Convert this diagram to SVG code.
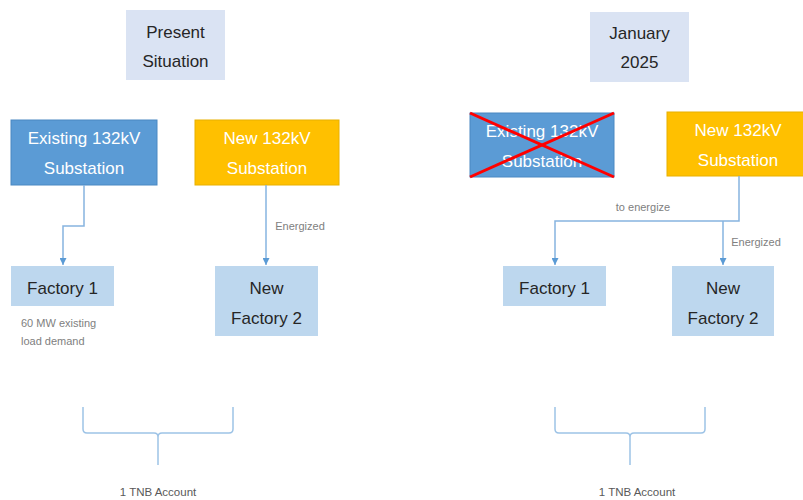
<svg xmlns="http://www.w3.org/2000/svg" width="803" height="500" viewBox="0 0 803 500">
<style>
.t{font-family:"Liberation Sans",Arial,sans-serif;text-anchor:middle}
.big{font-size:17px}
.dark{fill:#262626}
.white{fill:#ffffff}
.small{font-size:11px;fill:#808080}
.acct{font-size:11.5px;fill:#595959}
.title{fill:#dae3f3}
.ex{fill:#5b9bd5;stroke:#4a88c2;stroke-width:1}
.nw{fill:#ffc000;stroke:#e8b000;stroke-width:1}
.fac{fill:#bdd7ee}
.conn{fill:none;stroke:#86b4e0;stroke-width:1.5}
.brace{fill:none;stroke:#9dc3e6;stroke-width:1.5}
</style>
<defs>
<marker id="arr" viewBox="0 0 10 10" refX="10" refY="5" markerWidth="7" markerHeight="7" markerUnits="userSpaceOnUse" orient="auto">
<path d="M0,0 L10,5 L0,10 z" fill="#5b9bd5"/>
</marker>
</defs>
<rect width="803" height="500" fill="#ffffff"/>

<g id="present">
<rect class="title" x="126" y="10" width="99" height="70"/>
<text class="t big dark" x="175.5" y="38">Present</text>
<text class="t big dark" x="175.5" y="67">Situation</text>
</g>
<g id="existing-left">
<rect class="ex" x="11" y="120" width="146" height="65"/>
<text class="t big white" x="84" y="144">Existing 132kV</text>
<text class="t big white" x="84" y="174">Substation</text>
</g>
<g id="new-left">
<rect class="nw" x="195" y="120" width="144" height="65"/>
<text class="t big white" x="267" y="144">New 132kV</text>
<text class="t big white" x="267" y="174">Substation</text>
</g>
<g id="factory1-left">
<rect class="fac" x="11" y="266" width="103" height="40"/>
<text class="t big dark" x="62.5" y="294">Factory 1</text>
</g>
<g id="factory2-left">
<rect class="fac" x="215" y="266" width="103" height="70"/>
<text class="t big dark" x="266.5" y="294">New</text>
<text class="t big dark" x="266.5" y="324">Factory 2</text>
</g>

<g id="january">
<rect class="title" x="590" y="12" width="99" height="70"/>
<text class="t big dark" x="639.5" y="39">January</text>
<text class="t big dark" x="639.5" y="68">2025</text>
</g>
<g id="existing-right">
<rect class="ex" x="470" y="113" width="144" height="64"/>
<text class="t big white" x="542" y="137">Existing 132kV</text>
<text class="t big white" x="542" y="167">Substation</text>
<line x1="470" y1="113" x2="614" y2="177" stroke="#ff0000" stroke-width="3"/>
<line x1="614" y1="113" x2="470" y2="177" stroke="#ff0000" stroke-width="3"/>
</g>
<g id="new-right">
<rect class="nw" x="667" y="112" width="137" height="64"/>
<text class="t big white" x="738" y="136">New 132kV</text>
<text class="t big white" x="738" y="166">Substation</text>
</g>
<g id="factory1-right">
<rect class="fac" x="503" y="266" width="103" height="40"/>
<text class="t big dark" x="554.5" y="294">Factory 1</text>
</g>
<g id="factory2-right">
<rect class="fac" x="672" y="266" width="102" height="70"/>
<text class="t big dark" x="723" y="294">New</text>
<text class="t big dark" x="723" y="324">Factory 2</text>
</g>

<g id="connectors">
<path class="conn" d="M84,185 V226 H63 V265" marker-end="url(#arr)"/>
<path class="conn" d="M266,185 V265" marker-end="url(#arr)"/>
<path class="conn" d="M739,176 V221 H555 V265" marker-end="url(#arr)"/>
<path class="conn" d="M723,221 V265" marker-end="url(#arr)"/>
</g>

<g id="labels">
<text class="t small" x="300" y="230">Energized</text>
<text class="t small" x="643" y="211">to energize</text>
<text class="t small" x="756" y="246">Energized</text>
<text class="small" font-family="Liberation Sans,Arial,sans-serif" x="21" y="327">60 MW existing</text>
<text class="small" font-family="Liberation Sans,Arial,sans-serif" x="21" y="345">load demand</text>
</g>

<g id="brace-left">
<path class="brace" d="M83,407 V429 Q83,433 87,433 H154 Q158,433 158,437 V465 M158,437 Q158,433 162,433 H229 Q233,433 233,429 V407"/>
<text class="t acct" x="158" y="496">1 TNB Account</text>
</g>
<g id="brace-right">
<path class="brace" d="M555,407 V429 Q555,433 559,433 H626 Q630,433 630,437 V465 M630,437 Q630,433 634,433 H701 Q705,433 705,429 V407"/>
<text class="t acct" x="637" y="496">1 TNB Account</text>
</g>
</svg>
